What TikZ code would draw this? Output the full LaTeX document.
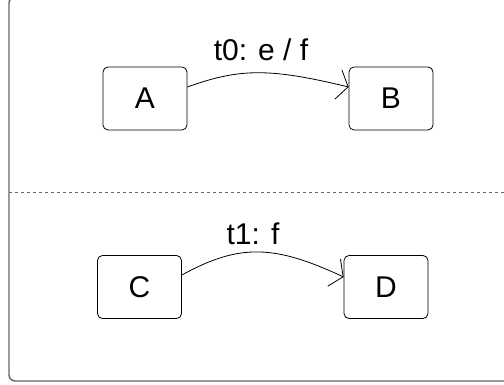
\documentclass[tikz,border=0pt]{standalone}
\usepackage{fontspec}
\setmainfont{Liberation Sans}
\usetikzlibrary{arrows.meta}
\tikzset{
  state/.style={draw, rounded corners=5pt, minimum width=84pt, minimum height=63pt,
    inner sep=0pt, line width=0.8pt, font=\fontsize{30}{34}\selectfont},
  trans/.style={-{Straight Barb[length=10pt,width=30pt]}, line width=0.8pt},
  tlabel/.style={font=\fontsize{30}{34}\selectfont, inner sep=0pt},
  region/.style={draw=black!60, line width=1.4pt, rounded corners=6pt}
}
\begin{document}
\begin{tikzpicture}[x=1pt,y=-1pt]
\useasboundingbox (0,0) rectangle (504,385);
\draw[region] (9,-3) rectangle (520,381);
\draw[black!60, line width=1pt, dash pattern=on 3pt off 3pt] (9,192.5) -- (504,192.5);
\node[state] (a) at (145,98.5) {A};
\node[state] (b) at (391,98.5) {B};
\node[state] (c) at (139.5,287) {C};
\node[state] (d) at (386,287) {D};
\node[tlabel] (t0) at (261,50) {t0: e / f};
\node[tlabel] (t1) at (253,234) {t1: f};
\draw[trans] (a.east|-0,87) .. controls (240,68) and (270,68) .. (b.west|-0,87);
\draw[trans] (c.east|-0,275) .. controls (240,243) and (275,245) .. (d.west|-0,277);
\end{tikzpicture}
\end{document}
